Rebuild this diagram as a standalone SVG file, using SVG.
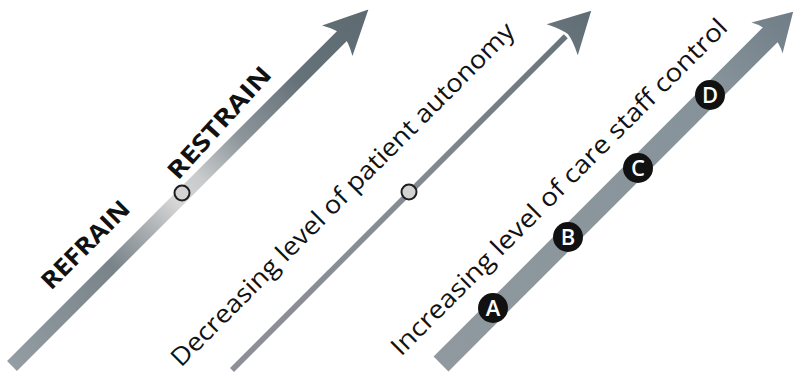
<svg xmlns="http://www.w3.org/2000/svg" width="795" height="376" viewBox="0 0 795 376">
<defs>
<linearGradient id="g1" gradientUnits="userSpaceOnUse" x1="0" y1="0" x2="504" y2="0">
<stop offset="0" stop-color="#939da3"/>
<stop offset="0.28" stop-color="#78838a"/>
<stop offset="0.38" stop-color="#a9aeb1"/>
<stop offset="0.46" stop-color="#d6d6d6"/>
<stop offset="0.53" stop-color="#c8cacb"/>
<stop offset="0.64" stop-color="#8d969b"/>
<stop offset="0.8" stop-color="#66727a"/>
<stop offset="1" stop-color="#5d6a70"/>
</linearGradient>
<linearGradient id="g2" gradientUnits="userSpaceOnUse" x1="0" y1="0" x2="508" y2="0">
<stop offset="0" stop-color="#8d8f99"/>
<stop offset="0.5" stop-color="#868b93"/>
<stop offset="0.9" stop-color="#6a767d"/>
<stop offset="1" stop-color="#5e6c74"/>
</linearGradient>
<linearGradient id="g3" gradientUnits="userSpaceOnUse" x1="0" y1="0" x2="498" y2="0">
<stop offset="0" stop-color="#8f999f"/>
<stop offset="0.8" stop-color="#86929a"/>
<stop offset="1" stop-color="#6f7d86"/>
</linearGradient>
<style>
.lbl{font-family:"Open Sans","Liberation Sans",sans-serif;fill:#111;}
.bold{font-weight:700;font-size:24px;}
.reg{font-weight:400;font-size:25px;}
.ring{fill:#d3d3d3;stroke:#1e1e1e;stroke-width:2;}
.badge circle{fill:#111;}
.badge text{font-family:"Open Sans","Liberation Sans",sans-serif;font-size:22px;font-weight:600;fill:#fff;text-anchor:middle;}
</style>
</defs>
<g id="connectors">
<g id="arrow-restrain" transform="translate(12,366) rotate(-45)">
<rect x="0" y="-7" width="470" height="14" fill="url(#g1)"/>
<path d="M504,0 L460,-21.5 Q467,-9 468,0 Q467,9 460,21.5 Z" fill="url(#g1)"/>
</g>
<g id="arrow-autonomy" transform="translate(232,370) rotate(-45)">
<rect x="0" y="-2.8" width="472" height="5.6" fill="url(#g2)"/>
<path d="M508,0 L467,-22 Q474,-8 475,0 Q474,8 467,22 Z" fill="url(#g2)"/>
</g>
<g id="arrow-control" transform="translate(441,364) rotate(-45)">
<rect x="0" y="-10.5" width="468" height="21" fill="url(#g3)"/>
<path d="M498,0 L461,-22 Q466,-14 467,0 Q466,14 461,22 Z" fill="url(#g3)"/>
</g>
</g>
<g id="node-mid1"><circle class="ring" cx="182" cy="193" r="7.5"/></g>
<g id="node-mid2"><circle class="ring" cx="409" cy="192" r="7.5"/></g>
<g id="label-refrain"><text class="lbl bold" transform="translate(51,291) rotate(-45)" textLength="114" lengthAdjust="spacingAndGlyphs">REFRAIN</text></g>
<g id="label-restrain"><text class="lbl bold" transform="translate(178,181) rotate(-48)" textLength="142" lengthAdjust="spacingAndGlyphs">RESTRAIN</text></g>
<g id="label-autonomy"><text class="lbl reg" transform="translate(181,368) rotate(-45)" textLength="474" lengthAdjust="spacingAndGlyphs">Decreasing level of patient autonomy</text></g>
<g id="label-control"><text class="lbl reg" transform="translate(401,357) rotate(-45)" textLength="464" lengthAdjust="spacingAndGlyphs">Increasing level of care staff control</text></g>
<g id="node-A" class="badge"><circle cx="493" cy="308" r="15"/><text x="493" y="316">A</text></g>
<g id="node-B" class="badge"><circle cx="568" cy="237" r="15"/><text x="568" y="245">B</text></g>
<g id="node-C" class="badge"><circle cx="638" cy="168" r="15"/><text x="638" y="176">C</text></g>
<g id="node-D" class="badge"><circle cx="710" cy="95" r="15"/><text x="710" y="103">D</text></g>
</svg>
